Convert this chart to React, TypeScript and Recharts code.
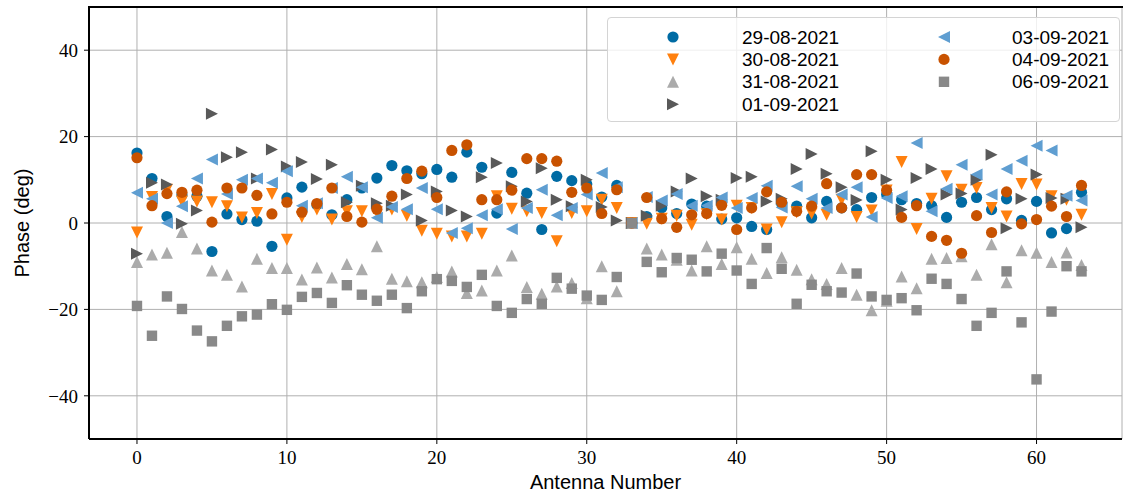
import React from "react";
import { CartesianGrid, Scatter, ScatterChart, XAxis, YAxis } from "recharts";

const antennas = Array.from({ length: 64 }, (_, i) => i);

const phase2908 = [16.2, 10.3, 1.5, 6.5, 6.2, -6.6, 2.1, 0.8, 0.4, -5.4, 5.8, 8.3, 4.2, 1.9, 5.4, 8.1, 10.4, 13.3, 12.1, 11.4, 12.4, 10.6, 16.4, 12.9, 2.3, 11.7, 6.9, -1.5, 10.8, 9.8, 9.0, 6.0, 8.7, 0, 1.5, 3.5, 2.2, 4.4, 3.9, 0.9, 1.2, -0.8, -1.5, 4.5, 3.9, 1.2, 5.0, 3.5, 3.1, 5.9, 6.6, 5.4, 4.5, 4.0, 1.3, 4.8, 5.9, 3.1, 5.6, 0.6, 5.0, -2.3, -1.3, 7.1];
const phase3008 = [-2.2, 6.0, 7.7, 5.0, 5.0, 4.8, 3.9, 1.3, 2.3, 6.7, -3.9, 1.4, 3.1, 0.8, 2.7, 2.7, 2.5, 3.1, 1.7, -1.8, -2.5, -3.1, -3.1, -2.5, 6.2, 3.3, 2.7, 2.3, -4.2, 2.3, 2.7, 5.4, 3.5, 0, -0.2, 1.0, 1.7, -0.4, 2.0, 0.8, 4.0, 3.5, -1.5, 0.2, 2.5, 2.2, 1.9, 5.4, 1.4, 2.9, 7.5, 14.1, -1.4, 5.6, 10.8, 7.7, 8.1, 3.5, 1.5, 9.0, 8.9, 6.2, 5.4, 1.9];
const phase3108 = [-9.0, -7.3, -6.9, -2.1, -5.9, -11.0, -12.0, -14.7, -8.3, -10.4, -10.4, -13.1, -10.3, -12.6, -9.5, -10.7, -5.4, -12.9, -13.5, -13.7, -12.5, -11.2, -16.2, -15.6, -11.0, -7.5, -14.8, -16.4, -14.7, -13.9, -17.4, -10.0, -15.8, 0, -5.9, -7.3, -8.5, -11.0, -5.4, -9.5, -5.6, -8.3, -11.6, -7.9, -10.8, -13.0, -14.1, -10.4, -16.6, -20.2, -18.0, -12.4, -15.1, -8.3, -8.1, -7.7, -12.0, -4.9, -13.7, -6.3, -6.9, -9.0, -6.8, -9.7];
const phase0109 = [-7.1, 9.3, 8.9, -0.2, 2.9, 25.3, 15.2, 16.4, 10.3, 17.0, 13.1, 14.1, 10.2, 13.5, 4.8, 8.6, 4.6, 4.0, 6.6, 0.6, 7.3, 2.9, 1.5, 10.6, 13.9, 8.5, 5.0, 12.7, 5.4, 3.9, 10.0, 3.7, 0.6, 0, 1.7, 4.0, 7.3, 10.3, 6.2, 5.4, 10.4, 10.7, 5.0, 5.6, 12.5, 16.0, 11.4, 8.3, 5.3, 16.6, 10.0, 3.1, 10.4, 12.5, 6.6, 6.8, 10.0, 15.8, -1.2, 5.6, 11.2, 5.8, 5.6, -1.0];
const phase0309 = [7.0, 5.6, 0.0, 3.9, 10.3, 14.7, 6.7, 10.0, 10.3, 9.3, 12.0, 4.0, 4.6, 8.1, 10.7, 8.3, 1.2, 3.7, 3.2, 8.1, 3.2, -2.3, -1.2, 1.8, 3.2, -1.4, 3.5, 7.7, 1.8, 3.5, 6.6, 11.6, 8.3, 0, 6.0, 5.2, 6.7, 4.0, 4.0, 5.9, 3.5, 5.8, 8.6, 3.6, 8.5, 5.6, 3.5, 6.6, 8.3, 1.4, 5.8, 6.2, 18.5, 2.7, 7.9, 13.5, 11.2, 6.6, 12.5, 14.4, 17.9, 16.8, 6.3, 5.2];
const phase0409 = [15.1, 4.0, 6.8, 7.1, 7.6, 0.2, 8.1, 8.1, 6.4, 2.1, 4.8, 2.5, 4.5, 8.1, 1.5, 0.2, 3.2, 6.2, 10.3, 12.0, 5.9, 16.8, 18.1, 5.4, 5.4, 7.6, 14.9, 14.9, 14.3, 7.1, 8.1, 2.2, 7.7, 0, 5.9, 1.0, -1.0, 1.9, 2.2, 4.1, -1.5, 3.5, 7.2, 4.8, 2.7, 3.9, 9.1, 3.5, 11.2, 11.2, 7.6, 1.3, 4.0, -3.1, -4.0, -7.0, 1.7, -2.2, 7.2, -0.2, 0.8, 3.9, 1.5, 8.7];
const phase0609 = [-19.2, -26.1, -17.0, -19.9, -24.9, -27.4, -23.8, -21.6, -21.2, -18.8, -20.1, -17.1, -16.2, -18.5, -14.4, -16.6, -18.0, -16.6, -19.7, -15.8, -13.0, -13.4, -14.8, -12.0, -19.2, -20.8, -17.6, -18.7, -12.7, -15.2, -16.8, -17.8, -12.5, 0, -9.0, -11.4, -8.1, -8.5, -11.2, -7.1, -11.0, -14.1, -5.8, -10.6, -18.7, -14.3, -15.8, -16.1, -11.7, -17.0, -17.8, -17.4, -20.2, -12.9, -14.1, -17.6, -23.8, -20.8, -11.2, -23.0, -36.2, -20.5, -10.0, -11.2];

const xTicks = [0, 10, 20, 30, 40, 50, 60];
const yTicks = [-40, -20, 0, 20, 40];

type Shape = "circle" | "down" | "up" | "right" | "left" | "square";

const series: { name: string; values: number[]; color: string; shape: Shape }[] = [
  { name: "29-08-2021", values: phase2908, color: "#006BA4", shape: "circle" },
  { name: "30-08-2021", values: phase3008, color: "#FF800E", shape: "down" },
  { name: "31-08-2021", values: phase3108, color: "#ABABAB", shape: "up" },
  { name: "01-09-2021", values: phase0109, color: "#595959", shape: "right" },
  { name: "03-09-2021", values: phase0309, color: "#5F9ED1", shape: "left" },
  { name: "04-09-2021", values: phase0409, color: "#C85200", shape: "circle" },
  { name: "06-09-2021", values: phase0609, color: "#898989", shape: "square" },
];

function Marker({ cx, cy, shape, color }: { cx: number; cy: number; shape: Shape; color: string }) {
  const s = 6;
  if (cx == null || cy == null) return null;
  switch (shape) {
    case "circle":
      return <circle cx={cx} cy={cy} r={5.6} fill={color} />;
    case "square":
      return <rect x={cx - 5.2} y={cy - 5.2} width={10.4} height={10.4} fill={color} />;
    case "down":
      return <polygon points={`${cx - s},${cy - s} ${cx + s},${cy - s} ${cx},${cy + s}`} fill={color} />;
    case "up":
      return <polygon points={`${cx - s},${cy + s} ${cx + s},${cy + s} ${cx},${cy - s}`} fill={color} />;
    case "right":
      return <polygon points={`${cx - s},${cy - s} ${cx - s},${cy + s} ${cx + s},${cy}`} fill={color} />;
    case "left":
      return <polygon points={`${cx + s},${cy - s} ${cx + s},${cy + s} ${cx - s},${cy}`} fill={color} />;
  }
  return null;
}

const fmtMinus = (v: number) => (v < 0 ? `\u2212${Math.abs(v)}` : `${v}`);

function LegendBox() {
  const col1 = series.slice(0, 4);
  const col2 = series.slice(4);
  const row = (s: (typeof series)[number], i: number, mx: number, tx: number) => (
    <g key={s.name}>
      <Marker cx={mx} cy={19 + i * 22.4} shape={s.shape} color={s.color} />
      <text x={tx} y={19 + i * 22.4} dy="0.35em" fontSize={19} fill="#000">
        {s.name}
      </text>
    </g>
  );
  return (
    <div
      style={{
        position: "absolute",
        left: 607,
        top: 17,
        width: 513,
        height: 105,
        boxSizing: "border-box",
        border: "1px solid #d4d4d4",
        borderRadius: 4,
        background: "rgba(255,255,255,0.8)",
        fontFamily: "'Liberation Sans', Arial, sans-serif",
      }}
    >
      <svg width={511} height={103} style={{ display: "block" }}>
        {col1.map((s, i) => row(s, i, 65, 134))}
        {col2.map((s, i) => row(s, i, 336, 404))}
      </svg>
    </div>
  );
}

export default function App() {
  return (
    <div style={{ position: "absolute", left: 0, top: 0, width: 1123, height: 495, background: "#fff" }}>
      <ScatterChart width={1123} height={495} margin={{ top: 7, right: 1, bottom: 0, left: 0 }}>
        <CartesianGrid stroke="#b0b0b0" strokeWidth={1} />
        <XAxis
          type="number"
          dataKey="x"
          domain={[-3.2, 65.7]}
          ticks={xTicks}
          allowDataOverflow
          height={56}
          tickSize={5}
          tickMargin={7}
          axisLine={{ stroke: "#000", strokeWidth: 2 }}
          tickLine={{ stroke: "#000" }}
          tick={{ fill: "#000", fontSize: 19, fontFamily: "'Liberation Serif', serif" }}
          label={{
            value: "Antenna Number",
            position: "insideBottom",
            offset: 6,
            fill: "#000",
            fontSize: 20,
            fontFamily: "'Liberation Sans', Arial, sans-serif",
          }}
        />
        <YAxis
          type="number"
          dataKey="y"
          domain={[-50, 50]}
          ticks={yTicks}
          allowDataOverflow
          width={89}
          tickSize={5}
          tickMargin={6}
          tickFormatter={fmtMinus}
          axisLine={{ stroke: "#000", strokeWidth: 2 }}
          tickLine={{ stroke: "#000" }}
          tick={{ fill: "#000", fontSize: 19, fontFamily: "'Liberation Serif', serif" }}
          label={{
            value: "Phase (deg)",
            angle: -90,
            position: "insideLeft",
            offset: 22,
            fill: "#000",
            fontSize: 20,
            fontFamily: "'Liberation Sans', Arial, sans-serif",
            style: { textAnchor: "middle" },
          }}
        />
        {series.map((s) => (
          <Scatter
            key={s.name}
            name={s.name}
            data={antennas.map((a, i) => ({ x: a, y: s.values[i] }))}
            isAnimationActive={false}
            shape={(p: any) => <Marker cx={p.cx} cy={p.cy} shape={s.shape} color={s.color} />}
          />
        ))}
      </ScatterChart>
      {/* top frame line of the axes box */}
      <div style={{ position: "absolute", left: 88, top: 6, width: 1035, height: 2, background: "#000" }} />
      <LegendBox />
    </div>
  );
}
